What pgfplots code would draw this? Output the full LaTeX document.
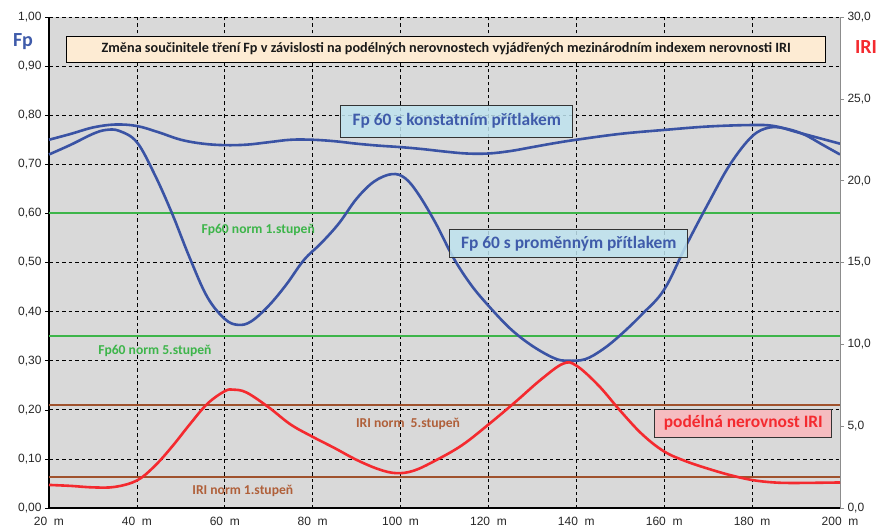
\documentclass[border=0pt]{standalone}
\usepackage{pgfplots}
\pgfplotsset{compat=1.18}
\usepackage{fontspec}
\setmainfont{Carlito}
\newfontfamily\arialf{Liberation Sans}
\definecolor{bgc}{HTML}{D9D9D9}
\definecolor{fpblue}{HTML}{3A53A4}
\definecolor{fptext}{HTML}{3F5BAA}
\definecolor{irired}{HTML}{F42A2F}
\definecolor{ngreen}{HTML}{3DB54A}
\definecolor{nbrown}{HTML}{A0522D}
\definecolor{tbrown}{HTML}{B0603A}
\definecolor{titlefill}{HTML}{FDEBD3}
\definecolor{bluefill}{HTML}{BFE3EF}
\definecolor{pinkfill}{HTML}{F5BCC0}
\newcommand{\fs}[1]{\fontsize{#1}{#1}\selectfont}
\tikzset{gridl/.style={black, line width=0.7pt, dash pattern=on 3.5pt off 3pt}}
\begin{document}
\begin{tikzpicture}[x=1pt,y=1pt]
\path[use as bounding box] (0,0) rectangle (881,531);
\begin{axis}[
  at={(49pt,23pt)}, anchor=south west,
  width=791pt, height=491pt, scale only axis,
  xmin=20, xmax=200, ymin=0, ymax=1,
  xtick={20,40,...,200}, ytick={0,0.1,...,1.01},
  axis background/.style={fill=bgc},
  axis x line*=bottom, axis y line*=left,
  axis line style={black, line width=1.6pt, -},
  tick align=outside, major tick length=4pt,
  xtick style={draw=none},
  ytick style={black, line width=0.6pt},
  yticklabel style={font=\arialf\fs{12}, text=black!85},
  xticklabel style={font=\arialf\fs{12}, text=black!85, yshift=-2pt},
  xticklabel={\pgfmathparse{int(round(\tick))}\pgfmathresult\ \ m},
  /pgf/number format/.cd, fixed, fixed zerofill, precision=2, use comma, assume math mode=true,
  /pgfplots/.cd,
  clip=false,
]
% grid lines (drawn first, under the curves)
\pgfplotsinvokeforeach{40,60,80,100,120,140,160,180,200}{
  \draw[gridl] (axis cs:#1,0) -- (axis cs:#1,1);}
\pgfplotsinvokeforeach{0.1,0.2,0.3,0.4,0.5,0.7,0.8,0.9,1.0}{
  \draw[gridl] (axis cs:20,#1) -- (axis cs:200,#1);}
% norm lines Fp60
\addplot[draw=ngreen, line width=1.8pt] coordinates {(20,0.35) (200,0.35)};
\addplot[draw=ngreen, line width=1.8pt] coordinates {(20,0.601) (110,0.601) (200,0.601)};
% Fp 60 constant pressure
\addplot[fpblue, line width=2.6pt, smooth, tension=0.6] coordinates {
(20,0.750) (25,0.762) (30,0.775) (35,0.781) (40,0.778) (45,0.765) (50,0.750)
(55,0.742) (60,0.739) (65,0.740) (70,0.745) (75,0.750) (80,0.750) (85,0.747)
(90,0.742) (95,0.738) (100,0.735) (105,0.731) (110,0.726) (115,0.722) (120,0.722)
(125,0.727) (130,0.735) (135,0.743) (140,0.750) (150,0.762) (160,0.770) (170,0.777)
(180,0.780) (185,0.778) (190,0.766) (195,0.754) (200,0.742)};
% Fp 60 variable pressure
\addplot[fpblue, line width=2.6pt, smooth, tension=0.6] coordinates {
(20,0.720) (25,0.740) (30,0.762) (33,0.770) (36,0.768) (40,0.745) (44,0.680)
(48,0.600) (52,0.510) (56,0.430) (60,0.385) (63,0.373) (66,0.380) (70,0.412)
(74,0.455) (78,0.505) (82,0.540) (86,0.580) (90,0.630) (94,0.665) (98,0.680)
(101,0.672) (104,0.640) (108,0.580) (112,0.510) (116,0.455) (120,0.412) (125,0.365)
(130,0.330) (135,0.305) (138,0.300) (142,0.303) (146,0.323) (150,0.352) (155,0.395)
(160,0.445) (165,0.535) (170,0.620) (175,0.700) (180,0.757) (184,0.775) (188,0.772)
(192,0.760) (196,0.740) (200,0.720)};
% labels
\node[font=\bfseries\fs{13.6}, text=ngreen] at (axis cs:67.6,0.566) {Fp60 norm 1.stupeň};
\node[font=\bfseries\fs{13.6}, text=ngreen] at (axis cs:44.1,0.320) {Fp60 norm 5.stupeň};
\node[font=\bfseries\fs{20}, text=fptext] at (axis cs:20,0.949) [xshift=-26pt] {Fp};
% title
\node[draw=black, line width=0.8pt, fill=titlefill, minimum width=759pt, minimum height=26pt, inner sep=0pt,
      font=\bfseries\fs{14.2}, text=black!90] at (axis cs:110.4,0.935) {Změna součinitele tření Fp v závislosti na podélných nerovnostech vyjádřených mezinárodním indexem nerovnosti IRI};
\node[draw=black!80, line width=0.8pt, fill=bluefill, fill opacity=0.85, text opacity=1, minimum width=232pt, minimum height=32pt, inner sep=0pt,
      font=\bfseries\fs{17.4}, text=fptext] at (axis cs:112.8,0.788) {Fp 60 s konstatním přítlakem};
\node[draw=black!80, line width=0.8pt, fill=bluefill, fill opacity=0.85, text opacity=1, minimum width=238pt, minimum height=28pt, inner sep=0pt,
      font=\bfseries\fs{17.4}, text=fptext] at (axis cs:138.3,0.538) {Fp 60 s proměnným přítlakem};
\end{axis}
\begin{axis}[
  at={(49pt,23pt)}, anchor=south west,
  width=791pt, height=491pt, scale only axis,
  xmin=20, xmax=200, ymin=0, ymax=30,
  ytick={0,5,...,30},
  axis x line=none, axis y line*=right,
  axis line style={black!45, line width=0.6pt, -},
  tick align=outside, major tick length=4pt,
  ytick style={black!45, line width=0.6pt},
  yticklabel style={font=\arialf\fs{12}, text=black!85},
  /pgf/number format/.cd, fixed, fixed zerofill, precision=1, use comma, assume math mode=true,
  /pgfplots/.cd,
  clip=false,
]
\addplot[nbrown, line width=1.6pt] coordinates {(20,6.3) (200,6.3)};
\addplot[nbrown, line width=1.6pt] coordinates {(20,1.9) (200,1.9)};
\node[font=\bfseries\fs{13.6}, text=tbrown] at (axis cs:101.7,5.13) {IRI norm\ \ 5.stupeň};
\node[font=\bfseries\fs{13.6}, text=tbrown] at (axis cs:64.1,1.05) {IRI norm 1.stupeň};
\node[draw=black!80, line width=0.8pt, fill=pinkfill, minimum width=177pt, minimum height=28pt, inner sep=0pt,
      font=\bfseries\fs{17.4}, text=irired] at (axis cs:178.0,5.19) {podélná nerovnost IRI};
% IRI
\addplot[irired, line width=2.6pt, smooth, tension=0.6] coordinates {
(20,1.41) (25,1.35) (30,1.26) (35,1.29) (40,1.68) (44,2.55) (48,3.75) (52,5.10)
(56,6.36) (60,7.14) (62,7.23) (65,7.05) (70,6.15) (75,5.10) (80,4.35) (85,3.66)
(90,2.94) (95,2.37) (99,2.13) (103,2.28) (108,2.91) (114,3.84) (120,5.10) (126,6.45)
(132,7.86) (137,8.82) (140,8.70) (145,7.50) (150,5.94) (155,4.50) (160,3.45) (165,2.85)
(170,2.40) (175,2.01) (180,1.71) (185,1.56) (190,1.53) (200,1.56)};
\node[font=\bfseries\fs{20}, text=irired] at (axis cs:200,28.17) [xshift=26pt] {IRI};
\end{axis}
\end{tikzpicture}
\end{document}
